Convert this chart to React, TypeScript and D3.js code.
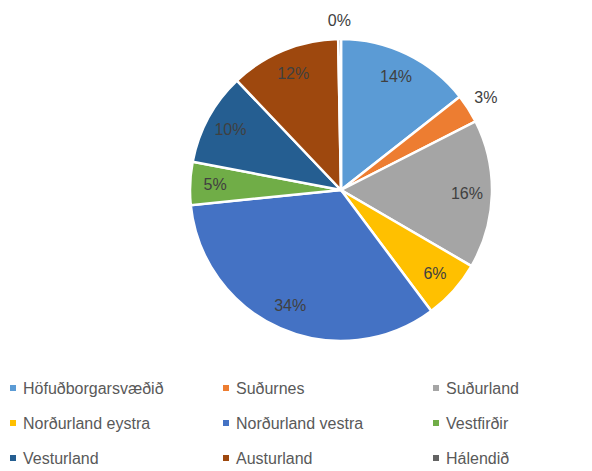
import React from "react";
import * as d3 from "d3";

const regions = [
  "Höfuðborgarsvæðið",
  "Suðurnes",
  "Suðurland",
  "Norðurland eystra",
  "Norðurland vestra",
  "Vestfirðir",
  "Vesturland",
  "Austurland",
  "Hálendið",
];
const shares = [14.4, 3.1, 15.9, 6.4, 33.6, 4.6, 9.9, 11.8, 0.3];
const colors = [
  "#5B9BD5",
  "#ED7D31",
  "#A5A5A5",
  "#FFC000",
  "#4472C4",
  "#70AD47",
  "#255E91",
  "#9E480E",
  "#636363",
];

const W = 592;
const H = 471;

const App: React.FC = () => {
  const cx = 341;
  const cy = 190;
  const r = 151;

  const total = d3.sum(shares);
  const pie = d3
    .pie<number>()
    .sort(null)
    .value((d) => d);
  const arcs = pie(shares);
  const arc = d3.arc<d3.PieArcDatum<number>>().innerRadius(0).outerRadius(r);
  const inner = d3.arc<d3.PieArcDatum<number>>().innerRadius(126).outerRadius(126);
  const outer = d3.arc<d3.PieArcDatum<number>>().innerRadius(172).outerRadius(172);

  const fmt = (v: number) => `${Math.round((v / total) * 100)}%`;

  const legX = [10, 223, 433];
  const legY = [388, 423, 458];

  return (
    <svg
      width={W}
      height={H}
      style={{ position: "absolute", left: 0, top: 0, background: "#fff" }}
      fontFamily="'Liberation Sans', Arial, sans-serif"
    >
      <g transform={`translate(${cx},${cy})`}>
        {arcs.map((a, i) => (
          <path key={i} d={arc(a) || ""} fill={colors[i]} stroke="#fff" strokeWidth={2.5} />
        ))}
        {arcs.map((a, i) => {
          const small = (a.value / total) * 100 < 4;
          const [x, y] = (small ? outer : inner).centroid(a);
          return (
            <text
              key={i}
              x={x}
              y={small && y < -150 ? y + 2 : y}
              textAnchor="middle"
              dominantBaseline="central"
              fontSize={16}
              fill="#404040"
            >
              {fmt(a.value)}
            </text>
          );
        })}
      </g>
      {regions.map((name, i) => {
        const x = legX[i % 3];
        const y = legY[Math.floor(i / 3)];
        return (
          <g key={name} transform={`translate(${x},${y})`}>
            <rect x={0} y={-3} width={6} height={6} fill={colors[i]} />
            <text x={13} y={0} dominantBaseline="central" fontSize={16} fill="#595959">
              {name}
            </text>
          </g>
        );
      })}
    </svg>
  );
};

export default App;
